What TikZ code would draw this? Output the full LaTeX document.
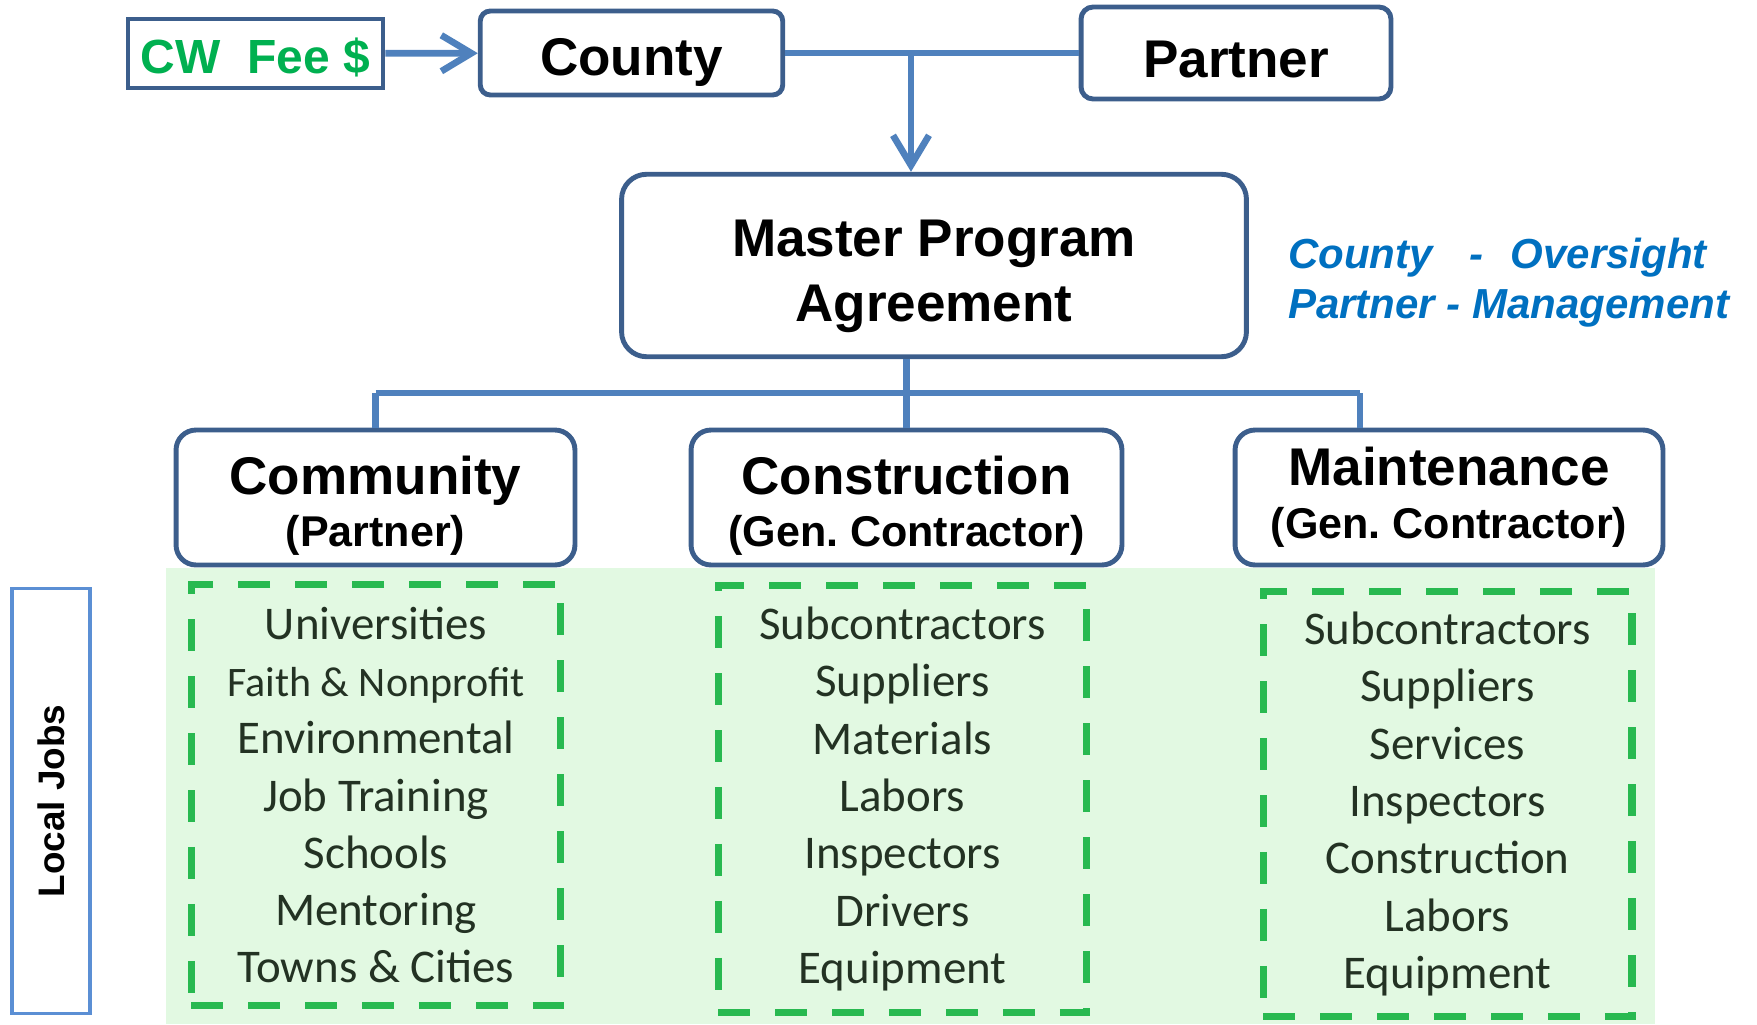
\documentclass[tikz,border=0pt]{standalone}
\usepackage{fontspec}
\setmainfont{Liberation Sans}
\newfontfamily\listfont{Carlito}
\usetikzlibrary{arrows.meta}
\frenchspacing

\definecolor{boxblue}{RGB}{60,94,140}
\definecolor{linkblue}{RGB}{79,129,189}
\definecolor{jobsblue}{RGB}{91,143,212}
\definecolor{feegreen}{RGB}{0,176,80}
\definecolor{dashgreen}{RGB}{40,185,80}
\definecolor{bggreen}{RGB}{226,249,226}
\definecolor{listtext}{RGB}{35,50,35}
\definecolor{notecolor}{RGB}{0,112,192}

\tikzset{
  orgbox/.style={draw=boxblue, line width=2.8pt, fill=white, align=center,
    font=\bfseries\fontsize{30.2}{29.9}\selectfont},
  link/.style={draw=linkblue, line width=3.8pt},
  linkarrow/.style={link, -{Straight Barb[length=6mm, width=7.2mm]}},
  jobbox/.style={draw=dashgreen, line width=4pt, dash pattern=on 6.4mm off 5mm,
    align=center, text=listtext, font=\listfont\fontsize{26.7}{32.6}\selectfont},
  note/.style={anchor=west, text=notecolor, font=\bfseries\itshape\fontsize{23.9}{28}\selectfont},
}
\newcommand{\subline}[1]{{\fontsize{24.5}{29.9}\selectfont #1}}
\newcommand{\topstrut}[1]{\rule{0pt}{#1}}

\begin{document}
\begin{tikzpicture}[x=0.02cm, y=-0.02cm]
    \useasboundingbox (0,0) rectangle (1757,1024);

    % background of the job lists
    \fill[bggreen] (166,568) rectangle (1655,1024);

    % top row
    \node[draw=boxblue, line width=2.8pt, minimum width=5.1cm, minimum height=1.38cm,
          text height=23pt, text depth=0pt,
          text=feegreen, font=\bfseries\fontsize{27.3}{30}\selectfont] (fee) at (255.5,53.5) {CW\ \ Fee \$};
    \node[orgbox, rounded corners=0.2cm, minimum width=6.05cm, minimum height=1.68cm,
          text height=26pt, text depth=0pt] (county) at (631.5,53) {County};
    \node[orgbox, rounded corners=0.24cm, minimum width=6.2cm, minimum height=1.84cm,
          text height=27.5pt, text depth=0pt] (partner) at (1236,53) {Partner};

    % agreement
    \node[orgbox, rounded corners=0.5cm, minimum width=12.5cm, minimum height=3.65cm,
          font=\bfseries\fontsize{30.2}{37}\selectfont] (master) at (934,265.5)
        {\topstrut{33.6pt}Master Program\\Agreement};
    \node[note] (oversight) at (1282,257.5) {County\hspace{0.88em}-\hspace{0.64em}Oversight};
    \node[note] (management) at (1282,308.5) {Partner - Management};

    % second row
    \node[orgbox, rounded corners=0.4cm, minimum width=7.98cm, minimum height=2.7cm] (community) at (375.5,497.5)
        {\topstrut{31pt}Community\\\subline{(Partner)}};
    \node[orgbox, rounded corners=0.4cm, minimum width=8.62cm, minimum height=2.7cm] (construction) at (906.5,497.5)
        {\topstrut{31pt}Construction\\\subline{(Gen. Contractor)}};
    \node[orgbox, rounded corners=0.4cm, minimum width=8.56cm, minimum height=2.7cm] (maintenance) at (1449,497.5)
        {Maintenance\\\subline{(Gen. Contractor)}};

    % job lists
    \node[jobbox, minimum width=7.4cm, minimum height=8.44cm] (comjobs) at (376,795)
        {Universities\\{\fontsize{23.9}{32.6}\selectfont Faith \& Nonprofit}\\Environmental\\Job Training\\Schools\\Mentoring\\Towns \& Cities};
    \node[jobbox, minimum width=7.38cm, minimum height=8.56cm] (conjobs) at (902.5,799)
        {Subcontractors\\Suppliers\\Materials\\Labors\\Inspectors\\Drivers\\Equipment};
    \node[jobbox, minimum width=7.38cm, minimum height=8.52cm] (mntjobs) at (1447.5,804)
        {Subcontractors\\Suppliers\\Services\\Inspectors\\Construction\\Labors\\Equipment};

    \node[draw=jobsblue, line width=2.2pt, rotate=90, minimum width=8.5cm, minimum height=1.56cm,
          font=\bfseries\fontsize{21}{24}\selectfont] (jobs) at (51,801) {Local Jobs};

    % connectors
    \coordinate (split) at (911,53);
    \coordinate (busL) at (375.5,393);
    \coordinate (busR) at (1360,393);
    \draw[linkarrow] (fee) -- (county);
    \draw[link] (county) -- (partner);
    \draw[linkarrow] (split) -- (split |- master.north);
    \draw[link] (construction.north |- master.south) -- (construction.north);
    \draw[link] (busL) -- (busR);
    \draw[link] (busL) -- (community.north);
    \draw[link] (busR) -- (busR |- maintenance.north);
\end{tikzpicture}
\end{document}
